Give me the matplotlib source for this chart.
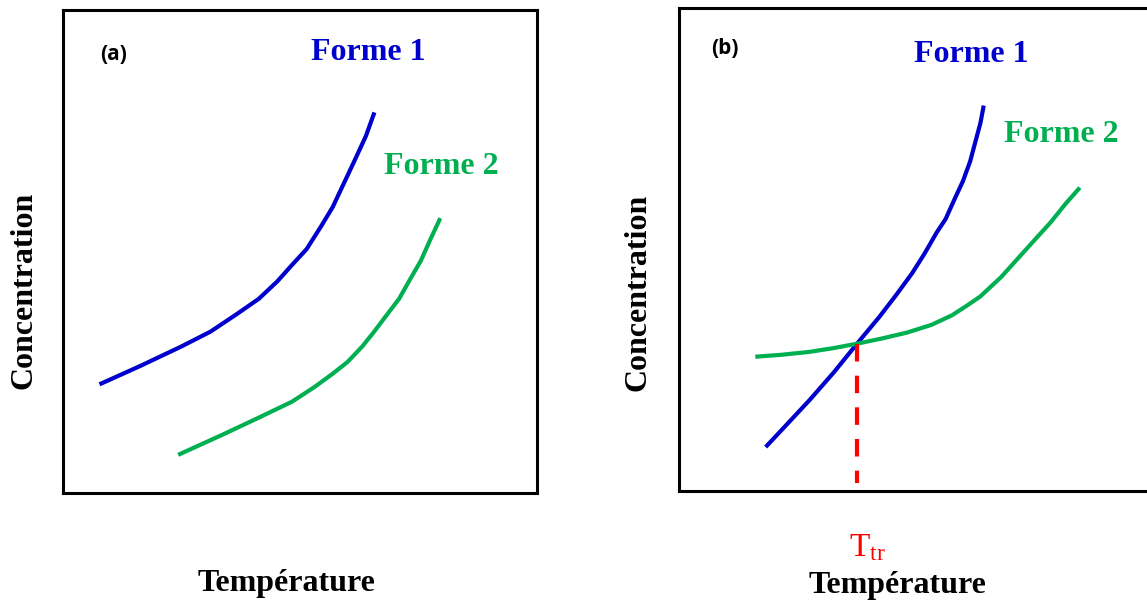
import matplotlib
matplotlib.use("Agg")
import matplotlib.pyplot as plt

# panel (a): solubility curves, two forms that never cross (monotropic)
temp_a1 = [7.7, 16.3, 24.9, 31.1, 36.6, 41.3, 45.2, 48.3, 51.4, 54.5, 56.9, 59.2, 61.5, 63.9, 65.7]
conc_a1 = [22.5, 26.3, 30.3, 33.4, 37.0, 40.2, 43.8, 47.2, 50.5, 55.3, 59.2, 64.0, 68.8, 73.9, 78.8]
temp_a2 = [24.3, 33.5, 41.3, 48.3, 53.0, 56.9, 60.0, 63.1, 65.4, 68.1, 70.9, 73.2, 75.5, 77.5, 79.6]
conc_a2 = [7.9, 12.0, 15.6, 18.9, 21.9, 24.7, 27.1, 30.3, 33.1, 36.6, 40.2, 44.2, 48.1, 52.5, 56.9]

# panel (b): curves crossing at the transition temperature (enantiotropic)
temp_b1 = [18.4, 23.2, 27.7, 32.9, 37.8, 42.5, 46.2, 49.5, 52.1, 54.7, 56.6, 58.4, 60.3, 61.8,
           62.9, 64.0, 64.7]
conc_b1 = [9.1, 14.1, 18.8, 24.6, 30.5, 36.0, 40.7, 45.1, 49.1, 53.5, 56.3, 60.2, 64.2, 68.2,
           72.2, 76.2, 79.8]
temp_b2 = [16.2, 21.7, 27.7, 32.9, 37.8, 43.2, 48.4, 53.6, 58.0, 61.0, 64.0, 68.4, 72.1, 75.8,
           78.8, 82.1, 85.1]
conc_b2 = [27.8, 28.2, 28.8, 29.6, 30.5, 31.6, 32.8, 34.4, 36.4, 38.3, 40.3, 44.3, 48.3, 52.3,
           55.5, 59.5, 62.8]
t_tr = 37.8
c_tr = 30.5

BLUE = "#0000CC"
GREEN = "#00B050"
RED = "#FF0000"
SERIF = "Liberation Serif"

plt.rcParams["mathtext.fontset"] = "custom"
plt.rcParams["mathtext.rm"] = SERIF

W, H = 1147, 601
fig = plt.figure(figsize=(W / 100, H / 100), dpi=100)


def box(left, top, right, bottom):
    ax = fig.add_axes([left / W, 1 - bottom / H, (right - left) / W, (bottom - top) / H])
    ax.set_xlim(0, 100)
    ax.set_ylim(0, 100)
    ax.set_xticks([])
    ax.set_yticks([])
    for s in ax.spines.values():
        s.set_linewidth(2.2)
        s.set_color("black")
    return ax


def label(x, y, s, **kw):
    opts = dict(ha="center", va="center", fontsize=23, fontweight="bold", family=SERIF)
    opts.update(kw)
    fig.text(x / W, 1 - y / H, s, **opts)


ax1 = box(63, 10, 537, 493)
ax2 = box(679, 8, 1150, 491)

# (a)
ax1.plot(temp_a1, conc_a1, color=BLUE, lw=3, solid_capstyle="butt", solid_joinstyle="round")
ax1.plot(temp_a2, conc_a2, color=GREEN, lw=3, solid_capstyle="butt", solid_joinstyle="round")
label(114, 54, "(a)", fontsize=15, family="Open Sans")
label(368, 53, "Forme 1", color=BLUE)
label(441, 166, "Forme 2", color=GREEN)
label(24, 290, "Concentration", rotation=90)
label(287, 584, "Température")

# (b)
ax2.plot(temp_b1, conc_b1, color=BLUE, lw=3, solid_capstyle="butt", solid_joinstyle="round")
ax2.plot(temp_b2, conc_b2, color=GREEN, lw=3, solid_capstyle="butt", solid_joinstyle="round")
ax2.plot([t_tr, t_tr], [c_tr, 1.7], color=RED, lw=3, dashes=(4.2, 3.4))
label(725, 49, "(b)", fontsize=15, family="Open Sans")
label(971, 54, "Forme 1", color=BLUE)
label(1061, 135, "Forme 2", color=GREEN)
label(638, 292, "Concentration", rotation=90)
label(898, 586, "Température")
label(867, 548, r"$\mathregular{T_{tr}}$", fontsize=24, fontweight="normal", color=RED)

fig.savefig("out.png", dpi=100)
